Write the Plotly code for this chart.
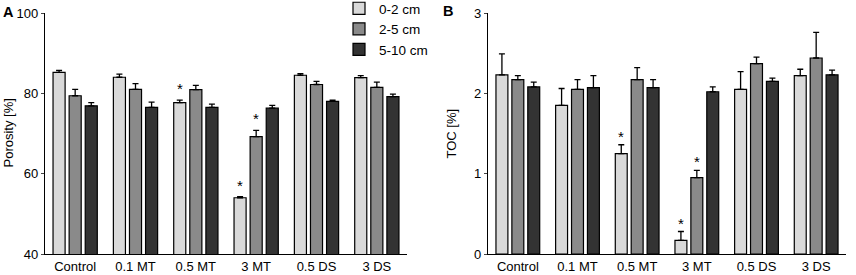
import plotly.graph_objects as go

categories = ["Control", "0.1 MT", "0.5 MT", "3 MT", "0.5 DS", "3 DS"]
depths = ["0-2 cm", "2-5 cm", "5-10 cm"]

# Porosity [%] (panel A)
por_0_2 = [85.2, 84.0, 77.7, 54.0, 84.5, 83.9]
por_2_5 = [79.4, 81.0, 80.9, 69.2, 82.2, 81.5]
por_5_10 = [76.9, 76.5, 76.5, 76.3, 78.0, 79.2]
por_err_0_2 = [0.5, 0.8, 0.6, 0.3, 0.4, 0.5]
por_err_2_5 = [1.6, 1.4, 1.1, 1.6, 0.8, 1.3]
por_err_5_10 = [0.8, 1.3, 0.8, 0.7, 0.3, 0.6]
por_sig_0_2 = [False, False, True, True, False, False]
por_sig_2_5 = [False, False, False, True, False, False]
por_sig_5_10 = [False] * 6

# TOC [%] (panel B)
toc_0_2 = [2.23, 1.85, 1.25, 0.17, 2.05, 2.22]
toc_2_5 = [2.17, 2.05, 2.17, 0.95, 2.37, 2.44]
toc_5_10 = [2.08, 2.07, 2.07, 2.02, 2.15, 2.23]
toc_err_0_2 = [0.26, 0.21, 0.11, 0.11, 0.22, 0.08]
toc_err_2_5 = [0.05, 0.12, 0.15, 0.09, 0.08, 0.32]
toc_err_5_10 = [0.06, 0.15, 0.10, 0.06, 0.04, 0.06]
toc_sig_0_2 = [False, False, True, True, False, False]
toc_sig_2_5 = [False, False, False, True, False, False]
toc_sig_5_10 = [False] * 6

colors = ["#d9d9d9", "#8a8a8a", "#333333"]
FONT = "Arial, Liberation Sans, sans-serif"

fig = go.Figure()

panels = [
    ("x", "y", [por_0_2, por_2_5, por_5_10], [por_err_0_2, por_err_2_5, por_err_5_10],
     [por_sig_0_2, por_sig_2_5, por_sig_5_10], True, 1),
    ("x2", "y2", [toc_0_2, toc_2_5, toc_5_10], [toc_err_0_2, toc_err_2_5, toc_err_5_10],
     [toc_sig_0_2, toc_sig_2_5, toc_sig_5_10], False, -2),
]

BARGAP = 0.2
slot = (1 - BARGAP) / len(depths)

for xa, ya, vals, errs, sigs, showleg, yshift in panels:
    for i, d in enumerate(depths):
        fig.add_trace(go.Bar(
            x=categories, y=vals[i], name=d, xaxis=xa, yaxis=ya,
            marker=dict(color=colors[i], line=dict(color="black", width=1.2)),
            error_y=dict(type="data", symmetric=False, array=errs[i],
                         arrayminus=[0] * len(categories),
                         color="black", thickness=1.3, width=3),
            showlegend=showleg, legendgroup=d,
        ))
        for c, (v, e, s) in enumerate(zip(vals[i], errs[i], sigs[i])):
            if s:
                fig.add_annotation(
                    x=c + (i - 1) * slot, y=v + e, xref=xa, yref=ya,
                    text="*", showarrow=False, yanchor="bottom", yshift=yshift,
                    font=dict(family=FONT, size=15, color="black"))

axis_common = dict(showline=True, linecolor="black", linewidth=1.3,
                   showgrid=False, zeroline=False, automargin=False,
                   tickfont=dict(family=FONT, size=13, color="black"))

PLOT_TOP, PLOT_BOT = 13, 254


def py(pix):
    return (PLOT_BOT - pix) / (PLOT_BOT - PLOT_TOP)


fig.update_layout(
    width=856, height=275,
    margin=dict(l=0, r=0, t=PLOT_TOP, b=275 - PLOT_BOT, autoexpand=False),
    paper_bgcolor="white", plot_bgcolor="white",
    barmode="group", bargap=BARGAP, bargroupgap=0.25,
    font=dict(family=FONT, color="black"),
    xaxis=dict(domain=[45 / 856, 407 / 856], anchor="y", ticks="", tickangle=0, **axis_common),
    yaxis=dict(anchor="x", range=[40, 100], tickvals=[40, 60, 80, 100],
               ticks="outside", ticklen=3, tickwidth=1.3, **axis_common),
    xaxis2=dict(domain=[488 / 856, 846 / 856], anchor="y2", ticks="", tickangle=0, **axis_common),
    yaxis2=dict(anchor="x2", range=[0, 3], tickvals=[0, 1, 2, 3],
                ticks="outside", ticklen=3, tickwidth=1.3, **axis_common),
    legend=dict(x=339 / 856, y=py(-7), xref="paper", yref="paper",
                xanchor="left", yanchor="top",
                font=dict(family=FONT, size=13.5, color="black"),
                bgcolor="rgba(0,0,0,0)", tracegroupgap=0, itemwidth=30),
)

fig.add_annotation(text="Porosity [%]", x=8 / 856, y=0.5, xref="paper", yref="paper",
                   textangle=-90, showarrow=False, xanchor="center",
                   font=dict(family=FONT, size=13, color="black"))
fig.add_annotation(text="TOC [%]", x=451 / 856, y=0.5, xref="paper", yref="paper",
                   textangle=-90, showarrow=False, xanchor="center",
                   font=dict(family=FONT, size=13, color="black"))
fig.add_annotation(text="<b>A</b>", x=1 / 856, y=py(12), xref="paper", yref="paper",
                   showarrow=False, xanchor="left", yanchor="middle",
                   font=dict(family=FONT, size=14.5, color="black"))
fig.add_annotation(text="<b>B</b>", x=441 / 856, y=py(11), xref="paper", yref="paper",
                   showarrow=False, xanchor="left", yanchor="middle",
                   font=dict(family=FONT, size=14.5, color="black"))

fig.write_html("out.html", config={"displayModeBar": False},
               post_script="document.body.style.margin='0';document.body.style.overflow='hidden';")
